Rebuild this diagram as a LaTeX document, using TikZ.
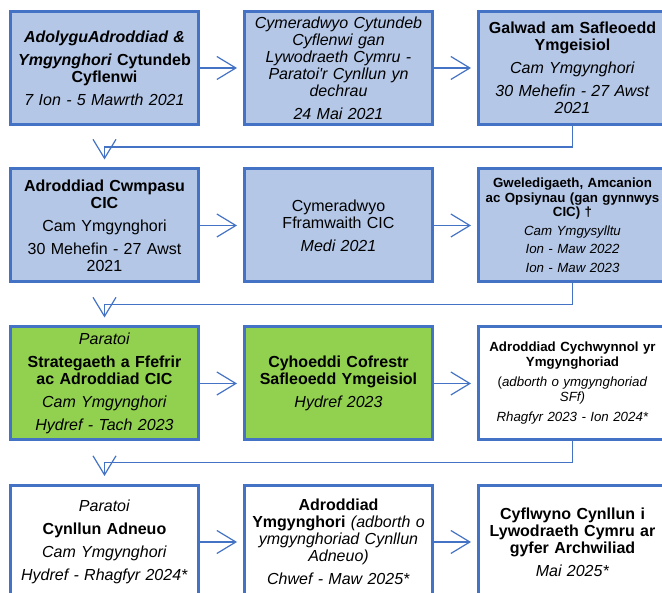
\documentclass[tikz,border=0pt]{standalone}
\usepackage{fontspec}
\setmainfont{Liberation Sans}
\usetikzlibrary{arrows.meta}
\definecolor{bordblue}{HTML}{4472C4}
\definecolor{fillblue}{HTML}{B4C7E7}
\definecolor{fillgreen}{HTML}{92D050}
\begin{document}
\begin{tikzpicture}[x=1pt,y=1pt,
  box/.style={draw=bordblue, line width=3pt, minimum width=188pt, minimum height=113pt,
    text width=184pt, align=center, inner sep=0pt, font=\fontsize{16}{17}\selectfont},
  bluebox/.style={box, fill=fillblue},
  greenbox/.style={box, fill=fillgreen},
  whitebox/.style={box, fill=white},
  smalltext/.style={font=\fontsize{13.3}{14.5}\selectfont},
  conn/.style={draw=bordblue, line width=1.2pt, -{Straight Barb[length=19pt,width=23pt]}, shorten >=6pt}]
\useasboundingbox (0,0) rectangle (662,593);
\clip (0,0) rectangle (662,593);
% row 1
\node[bluebox] (b1) at (104.5,525) {\textbf{\textit{AdolyguAdroddiad \&}}\\[6pt]
  \textbf{\textit{Ymgynghori} Cytundeb}\\\textbf{Cyflenwi}\\[6pt]
  \textit{7 Ion - 5 Mawrth 2021}};
\node[bluebox] (b2) at (338.5,525) {\textit{Cymeradwyo Cytundeb}\\\textit{Cyflenwi gan}\\
  \textit{Lywodraeth Cymru -}\\\textit{Paratoi\textquotesingle r Cynllun yn}\\\textit{dechrau}\\[6pt]
  \textit{24 Mai 2021}};
\node[bluebox] (b3) at (572.5,525) {\textbf{Galwad am Safleoedd}\\\textbf{Ymgeisiol}\\[6pt]
  \textit{Cam Ymgynghori}\\[6pt]
  \textit{30 Mehefin - 27 Awst}\\\textit{2021}};
% row 2
\node[bluebox] (b4) at (104.5,367.5) {\textbf{Adroddiad Cwmpasu}\\\textbf{CIC}\\[6pt]
  Cam Ymgynghori\\[6pt]
  30 Mehefin - 27 Awst\\2021};
\node[bluebox] (b5) at (338.5,367.5) {Cymeradwyo\\Fframwaith CIC\\[6pt]
  \textit{Medi 2021}};
\node[bluebox, smalltext] (b6) at (572.5,367.5) {\textbf{Gweledigaeth, Amcanion}\\
  \textbf{ac Opsiynau (gan gynnwys}\\\textbf{CIC) †}\\[4pt]
  \textit{Cam Ymgysylltu}\\[4pt]
  \textit{Ion - Maw 2022}\\[4pt]
  \textit{Ion - Maw 2023}};
% row 3
\node[greenbox] (b7) at (104.5,209.5) {\textit{Paratoi}\\[6pt]
  \textbf{Strategaeth a Ffefrir}\\\textbf{ac Adroddiad CIC}\\[6pt]
  \textit{Cam Ymgynghori}\\[6pt]
  \textit{Hydref - Tach 2023}};
\node[greenbox] (b8) at (338.5,209.5) {\textbf{Cyhoeddi Cofrestr}\\\textbf{Safleoedd Ymgeisiol}\\[6pt]
  \textit{Hydref 2023}};
\node[whitebox, smalltext] (b9) at (572.5,209.5) {\textbf{Adroddiad Cychwynnol yr}\\\textbf{Ymgynghoriad}\\[6pt]
  (\textit{adborth o ymgynghoriad}\\\textit{SFf)}\\[6pt]
  \textit{Rhagfyr 2023 - Ion 2024*}};
% row 4
\node[whitebox] (b10) at (104.5,51) {\textit{Paratoi}\\[6pt]
  \textbf{Cynllun Adneuo}\\[6pt]
  \textit{Cam Ymgynghori}\\[6pt]
  \textit{Hydref - Rhagfyr 2024*}};
\node[whitebox] (b11) at (338.5,51) {\textbf{Adroddiad}\\\textbf{Ymgynghori} \textit{(adborth o}\\
  \textit{ymgynghoriad Cynllun}\\\textit{Adneuo)}\\[6pt]
  \textit{Chwef - Maw 2025*}};
\node[whitebox] (b12) at (572.5,51) {\textbf{Cyflwyno Cynllun i}\\\textbf{Lywodraeth Cymru ar}\\
  \textbf{gyfer Archwiliad}\\[6pt]
  \textit{Mai 2025*}};
% connectors
\draw[conn] (b1) -- (b2);
\draw[conn] (b2) -- (b3);
\draw[conn] (b4) -- (b5);
\draw[conn] (b5) -- (b6);
\draw[conn] (b7) -- (b8);
\draw[conn] (b8) -- (b9);
\draw[conn] (b10) -- (b11);
\draw[conn] (b11) -- (b12);
\draw[conn, shorten >=8pt] (b3.south) -- ++(0,-21) -| (b4.north);
\draw[conn, shorten >=8pt] (b6.south) -- ++(0,-21) -| (b7.north);
\draw[conn, shorten >=8pt] (b9.south) -- ++(0,-21) -| (b10.north);
\end{tikzpicture}
\end{document}
